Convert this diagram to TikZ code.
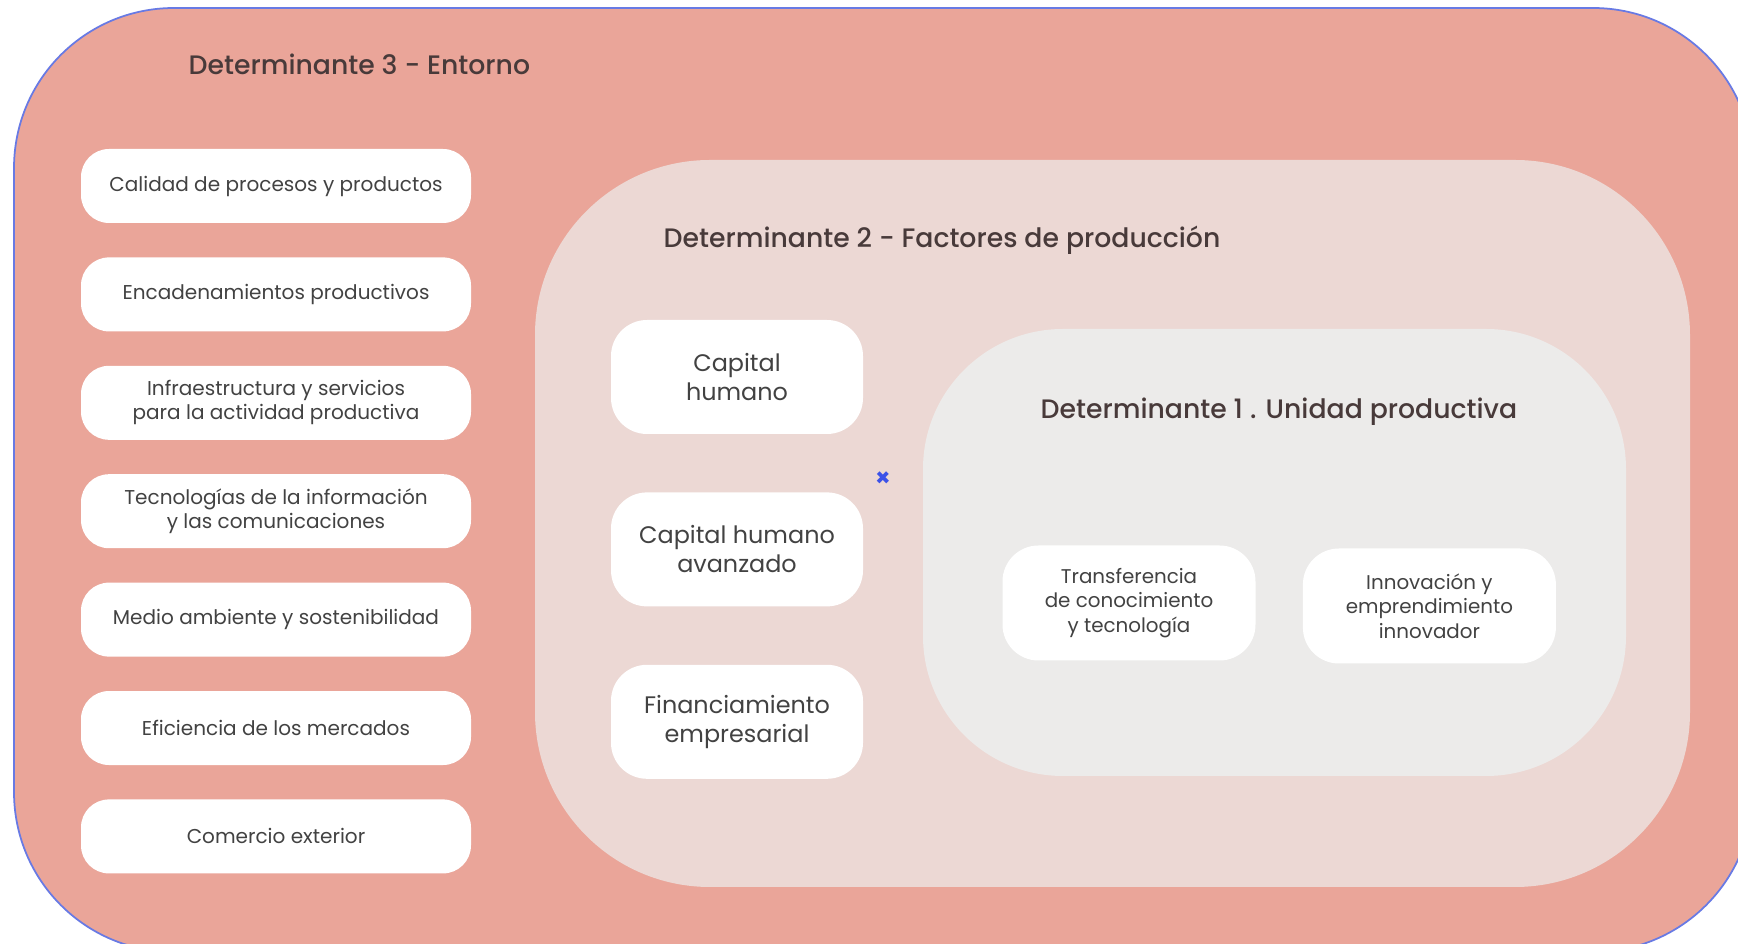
\documentclass[tikz,border=0pt]{standalone}
\usepackage{fontspec}
\setmainfont{Poppins}
\newfontfamily\titlefont{Poppins Medium}
\usetikzlibrary{positioning}
\definecolor{entorno}{RGB}{234,165,153}
\definecolor{factores}{RGB}{236,216,212}
\definecolor{unidad}{RGB}{236,235,234}
\definecolor{txtgray}{RGB}{66,66,66}
\definecolor{titgray}{RGB}{72,58,58}
\definecolor{rimblue}{RGB}{104,122,228}
\definecolor{markblue}{RGB}{60,82,232}
\tikzset{
  item/.style={fill=white, rounded corners=2.8mm, align=center, text=txtgray, minimum width=39mm, minimum height=7.4mm, inner sep=0pt, font=\fontsize{5.7}{6.9}\selectfont},
  factor/.style={fill=white, rounded corners=3.6mm, align=center, text=txtgray, minimum width=25.2mm, minimum height=11.4mm, inner sep=0pt, font=\fontsize{6.8}{8.2}\selectfont},
  unit/.style={fill=white, rounded corners=3.6mm, align=center, text=txtgray, minimum width=25.3mm, minimum height=11.5mm, inner sep=0pt, font=\fontsize{5.65}{7}\selectfont},
  title/.style={anchor=west, inner sep=0pt, text=titgray, font=\titlefont\fontsize{7.6}{9}\selectfont}
}

\begin{document}
\begin{tikzpicture}[x=0.1mm, y=-0.1mm, node distance=3.3mm]
    \useasboundingbox (0,0) rectangle (1738,944);
    % the three nested areas
    \path[fill=entorno, draw=rimblue, line width=0.5pt, rounded corners=16mm] (14,8) rectangle (1753,952);
    \fill[factores, rounded corners=17.5mm] (535,160) rectangle (1690,887);
    \fill[unidad, rounded corners=14mm] (923,329) rectangle (1626,776);

    \node[title] (det3) at (188,64) {Determinante 3 - Entorno};
    \node[title] (det2) at (663,240) {Determinante 2 - Factores de producción};
    \node[title] (det1) at (1040,412) {Determinante 1 . Unidad productiva};

    % entorno
    \node[item] (calidad) at (276,186) {Calidad de procesos y productos};
    \node[item, below=of calidad] (encad) {Encadenamientos productivos};
    \node[item, below=of encad] (infra) {Infraestructura y servicios\\para la actividad productiva};
    \node[item, below=of infra] (tic) {Tecnologías de la información\\y las comunicaciones};
    \node[item, below=of tic] (ambiente) {Medio ambiente y sostenibilidad};
    \node[item, below=of ambiente] (mercados) {Eficiencia de los mercados};
    \node[item, below=of mercados] (comercio) {Comercio exterior};

    % factores de produccion
    \node[factor] (capital) at (737,377) {Capital\\humano};
    \node[factor, below=5.7mm of capital] (avanzado) {Capital humano\\avanzado};
    \node[factor, below=5.7mm of avanzado] (financ) {Financiamiento\\empresarial};

    % unidad productiva
    \node[unit] (transf) at (1129,603) {Transferencia\\de conocimiento\\y tecnología};
    \node[unit, right=4.6mm of transf, yshift=-0.3mm] (innov) {Innovación y\\emprendimiento\\innovador};

    \node[text=markblue, inner sep=0pt, font=\bfseries\fontsize{7}{8}\selectfont] (marca) at (883,479) {×};
  \end{tikzpicture}
\end{document}
